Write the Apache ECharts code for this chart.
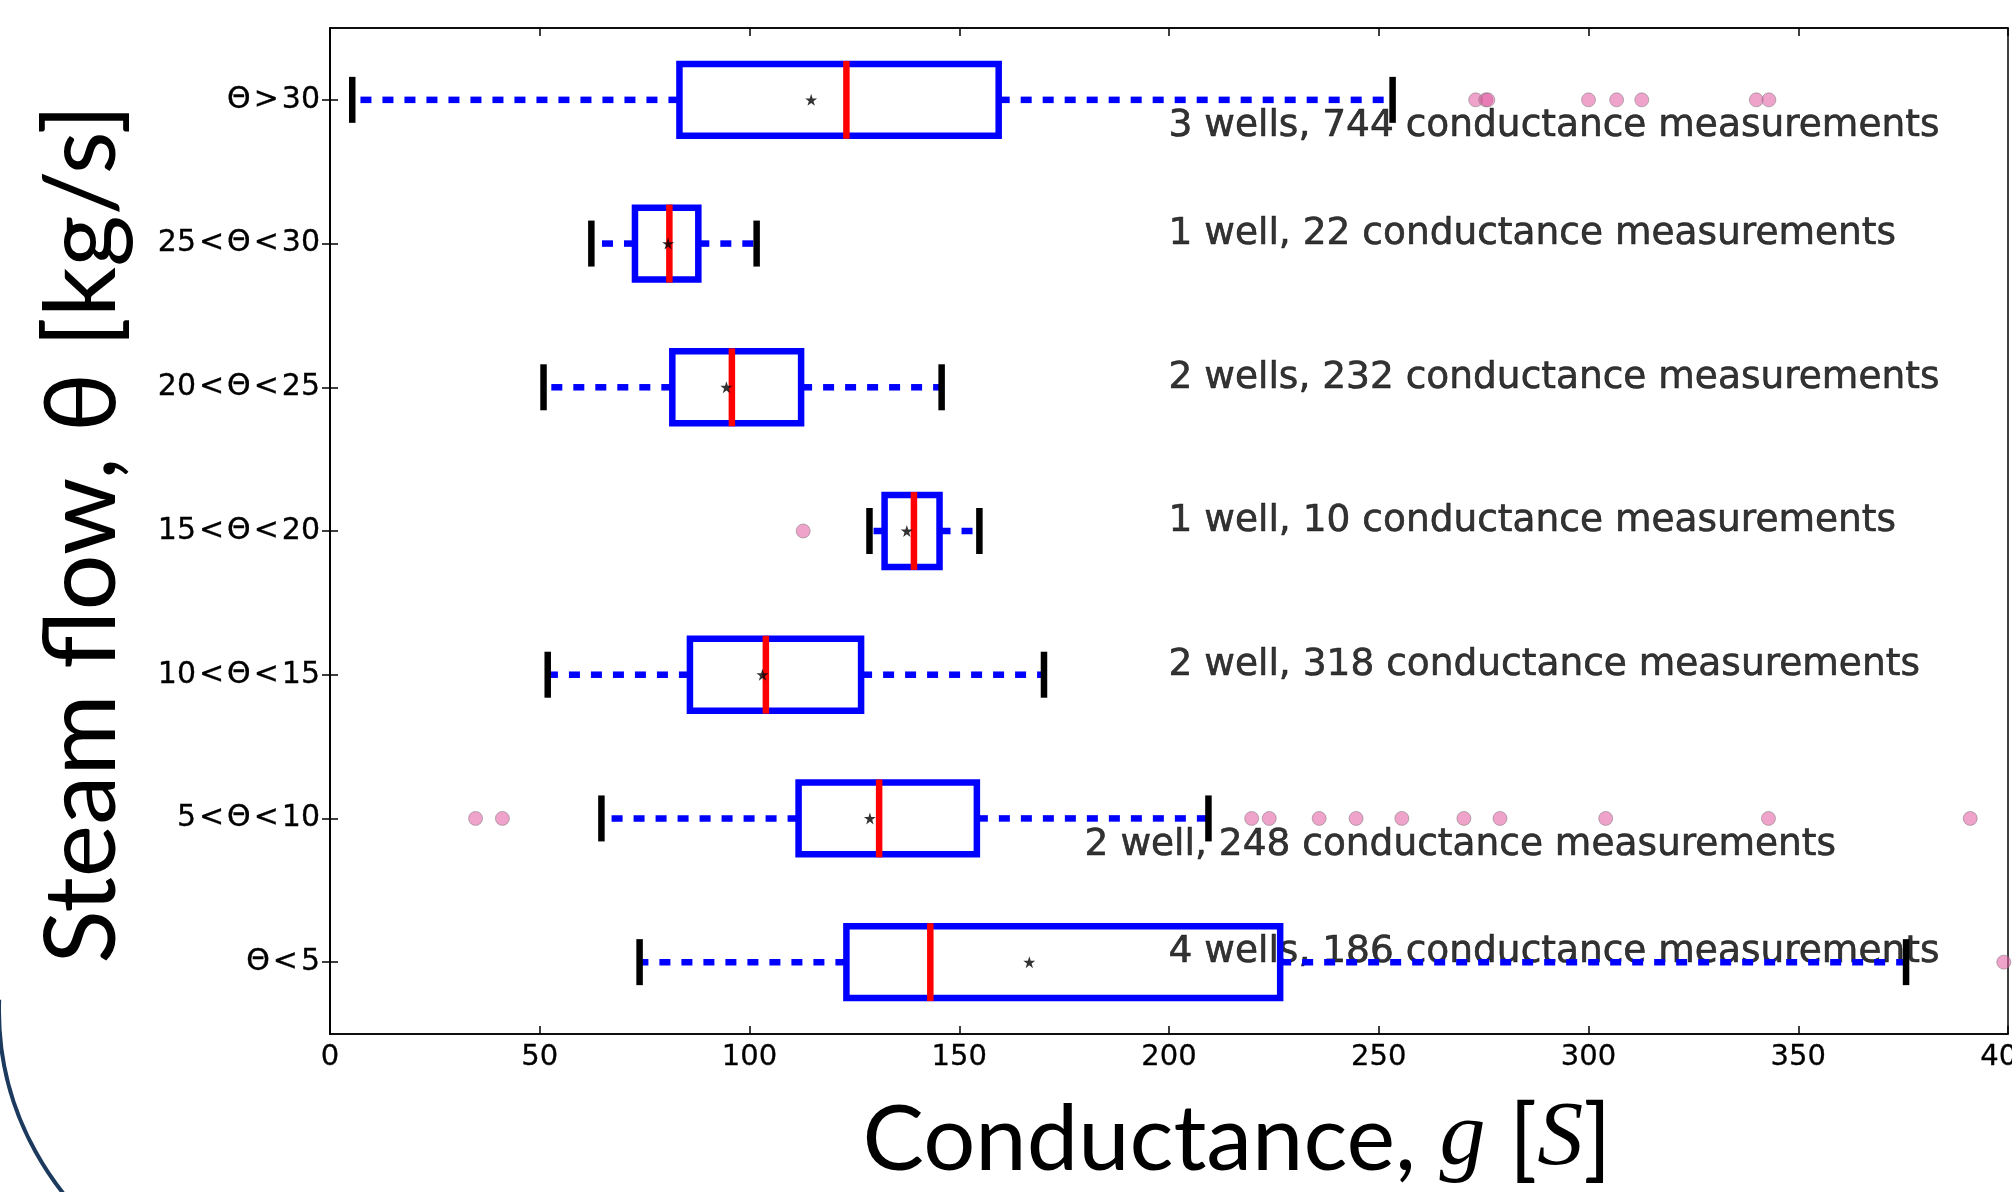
<!DOCTYPE html>
<html>
<head>
<meta charset="utf-8">
<script src="https://cdn.jsdelivr.net/npm/echarts@6/dist/echarts.min.js"></script>
<style>
html,body{margin:0;padding:0;background:#ffffff;}
#chart{width:2012px;height:1192px;}
</style>
</head>
<body>
<div id="chart"></div>
<script>
// ---- data ----
const categories = ['Θ<5', '5<Θ<10', '10<Θ<15', '15<Θ<20', '20<Θ<25', '25<Θ<30', 'Θ>30'];
const whiskerLow  = [73.8, 64.7, 51.9, 128.6, 50.9, 62.3, 5.3];
const q1          = [123.1, 111.7, 85.8, 132.2, 81.6, 72.7, 83.3];
const median      = [143.1, 130.9, 103.9, 139.2, 95.8, 80.9, 123.1];
const q3          = [226.5, 154.2, 126.6, 145.3, 112.3, 87.8, 159.4];
const whiskerHigh = [375.7, 209.4, 170.2, 154.8, 145.8, 101.7, 253.3];
const means       = [166.7, 128.7, 103.1, 137.5, 94.5, 80.6, 114.7];
const outliers = [
  [399.0],
  [34.7, 41.1, 219.7, 223.9, 235.8, 244.6, 255.5, 270.3, 278.9, 304.1, 342.9, 391.0],
  [],
  [112.8],
  [],
  [],
  [273.1, 275.5, 276.0, 300.0, 306.7, 312.7, 340.0, 343.0]
];
const annotTexts = [
  '4 wells, 186 conductance measurements',
  '2 well, 248 conductance measurements',
  '2 well, 318 conductance measurements',
  '1 well, 10 conductance measurements',
  '2 wells, 232 conductance measurements',
  '1 well, 22 conductance measurements',
  '3 wells, 744 conductance measurements'
];
const annotX = [200, 180, 200, 200, 200, 200, 200];
const annotY = [1, 1.75, 3, 4, 5, 6, 6.75];
const xMin = 0, xMax = 400, xStep = 50;
const xTitle = 'Conductance, ';
const yTitle = 'Steam flow, θ [kg/s]';

// ---- build series data ----
const boxData = categories.map((c, i) => [i, whiskerLow[i], q1[i], median[i], q3[i], whiskerHigh[i]]);
const meanData = means.map((m, i) => [m, i]);
const outlierData = [];
outliers.forEach((arr, i) => arr.forEach(v => outlierData.push([v, i])));
const annotData = annotTexts.map((t, i) => ({ name: t, value: [annotX[i], annotY[i]] }));

const BLUE = '#0000ff', RED = '#ff0000';
function renderBox(params, api) {
  const c = api.value(0);
  const lo = api.coord([api.value(1), c]);
  const a = api.coord([api.value(2), c]);
  const m = api.coord([api.value(3), c]);
  const b = api.coord([api.value(4), c]);
  const hi = api.coord([api.value(5), c]);
  const band = api.size([0, 1])[1];
  const y = lo[1];
  const h = band * 0.25;
  const ch = band * 0.16;
  const dash = { stroke: BLUE, lineWidth: 6.5, lineDash: [11, 11], lineCap: 'butt', fill: null };
  return {
    type: 'group',
    children: [
      { type: 'line', shape: { x1: a[0], y1: y, x2: lo[0], y2: y }, style: dash },
      { type: 'line', shape: { x1: b[0], y1: y, x2: hi[0], y2: y }, style: dash },
      { type: 'rect', shape: { x: a[0], y: y - h, width: b[0] - a[0], height: 2 * h },
        style: { fill: null, stroke: BLUE, lineWidth: 6.5 } },
      { type: 'line', shape: { x1: m[0], y1: y - h - 3, x2: m[0], y2: y + h + 3 },
        style: { stroke: RED, lineWidth: 6.5 } },
      { type: 'line', shape: { x1: lo[0], y1: y - ch, x2: lo[0], y2: y + ch },
        style: { stroke: '#000', lineWidth: 6.5 } },
      { type: 'line', shape: { x1: hi[0], y1: y - ch, x2: hi[0], y2: y + ch },
        style: { stroke: '#000', lineWidth: 6.5 } }
    ]
  };
}

const STAR = 'path://M0,-10L2.245,-3.09L9.511,-3.09L3.633,1.18L5.878,8.09L0,3.82L-5.878,8.09L-3.633,1.18L-9.511,-3.09L-2.245,-3.09Z';
const tickStyle = { show: true, inside: true, length: 8, lineStyle: { color: '#000', width: 1.5 } };
const lineStyle = { show: true, lineStyle: { color: '#000', width: 1.5 } };

const chart = echarts.init(document.getElementById('chart'), null, { renderer: 'canvas' });
chart.setOption({
  backgroundColor: '#ffffff',
  animation: false,
  grid: { left: 330, right: 4, top: 28, bottom: 158, containLabel: false, outerBoundsMode: 'none',
    show: true, borderColor: '#000', borderWidth: 1.5, backgroundColor: 'transparent' },
  xAxis: [
    { type: 'value', min: xMin, max: xMax, interval: xStep, position: 'bottom',
      axisLine: lineStyle, axisTick: tickStyle, splitLine: { show: false },
      axisLabel: { color: '#000', fontFamily: 'DejaVu Sans', fontSize: 29, margin: 9, hideOverlap: false,
        textBorderColor: '#000', textBorderWidth: 0.3 } },
    { type: 'value', min: xMin, max: xMax, interval: xStep, position: 'top',
      axisLine: lineStyle, axisTick: tickStyle, splitLine: { show: false }, axisLabel: { show: false } }
  ],
  yAxis: [
    { type: 'category', data: categories, position: 'left',
      axisLine: lineStyle, axisTick: Object.assign({ alignWithLabel: true }, tickStyle),
      axisLabel: { color: '#000', fontFamily: 'DejaVu Sans', fontSize: 30, margin: 10,
        textBorderColor: '#000', textBorderWidth: 0.3,
        formatter: v => v.replace(/([<>])/g, '\u200A$1\u200A') } },
    { type: 'category', data: categories, position: 'right',
      axisLine: lineStyle, axisTick: Object.assign({ alignWithLabel: true }, tickStyle), axisLabel: { show: false } },
    { type: 'value', min: 0.5, max: 7.5, show: false }
  ],
  series: [
    { type: 'scatter', xAxisIndex: 0, yAxisIndex: 2, data: annotData, symbolSize: 1, z: 1,
      itemStyle: { color: 'transparent' }, silent: true,
      label: { show: true, position: [0, 0], align: 'left', verticalAlign: 'middle', offset: [0, -9],
        formatter: p => p.name, color: '#000', textBorderColor: '#000', textBorderWidth: 0.6,
        fontFamily: 'DejaVu Sans', fontSize: 37.5 } },
    { type: 'custom', xAxisIndex: 0, yAxisIndex: 0, renderItem: renderBox, data: boxData, z: 2,
      encode: { x: [1, 2, 3, 4, 5], y: 0 } },
    { type: 'scatter', xAxisIndex: 0, yAxisIndex: 0, data: meanData, symbol: STAR, symbolSize: 12, z: 3,
      itemStyle: { color: '#000' } },
    { type: 'scatter', xAxisIndex: 0, yAxisIndex: 0, data: outlierData, symbol: 'circle', symbolSize: 14, z: 4,
      itemStyle: { color: 'rgba(228,95,165,0.72)', borderColor: 'rgba(110,110,110,0.6)', borderWidth: 1 } }
  ],
  graphic: [
    { type: 'arc', shape: { cx: 292, cy: 1010, r: 293, startAngle: 120 * Math.PI / 180, endAngle: 182 * Math.PI / 180, clockwise: true },
      style: { stroke: '#1c3a5e', lineWidth: 4, fill: null }, silent: true },
    { type: 'text', x: 1237, y: 1140,
      style: { text: '{n|' + xTitle + '}{i|g}{n| [}{i|S}{n|]}', align: 'center', verticalAlign: 'middle',
        rich: { n: { fontFamily: 'Lato', fontSize: 92, fill: '#000' },
                i: { fontFamily: 'Liberation Serif', fontStyle: 'italic', fontSize: 92, fill: '#000' } } } },
    { type: 'text', x: 83, y: 534, rotation: Math.PI / 2,
      style: { text: yTitle, align: 'center', verticalAlign: 'middle', fontFamily: 'Lato', fontSize: 99, fill: '#000' } }
  ]
});
</script>
</body>
</html>
